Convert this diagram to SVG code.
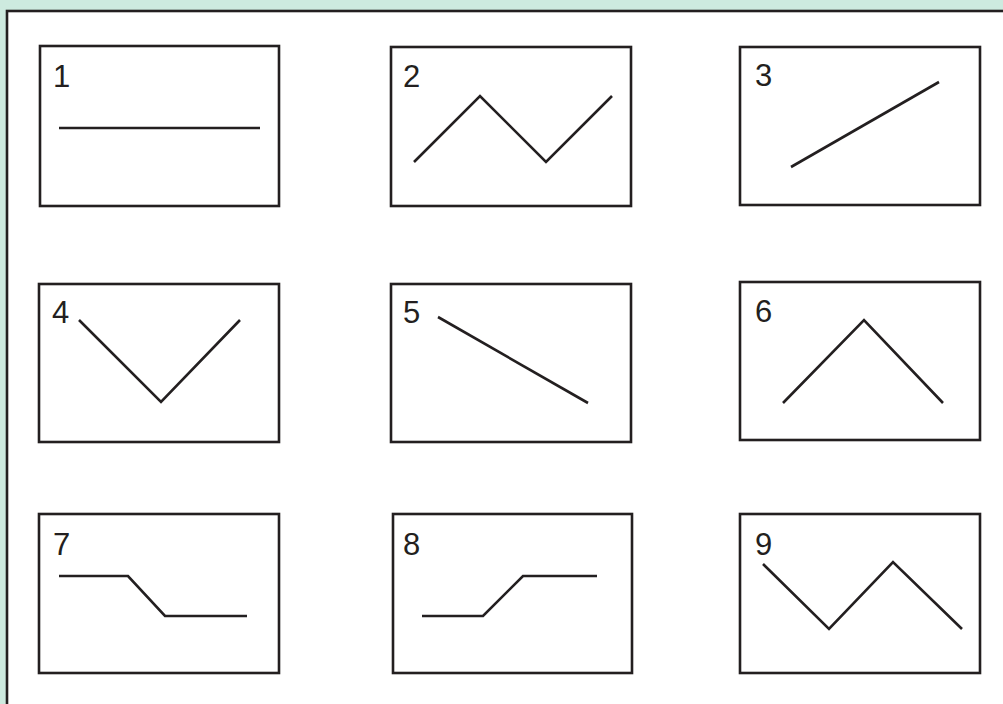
<svg xmlns="http://www.w3.org/2000/svg" width="1003" height="704" viewBox="0 0 1003 704">
<style>
.box{fill:#fff;stroke:#231f20;stroke-width:2.6}
.ln{fill:none;stroke:#231f20;stroke-width:2.6;stroke-linejoin:miter;stroke-linecap:butt}
.lb{font-family:"Liberation Sans",Arial,sans-serif;font-size:31px;fill:#231f20}
</style>
<rect x="0" y="0" width="1003" height="704" fill="#cdeadf"/>
<rect x="7" y="11" width="1010" height="710" fill="#fff" stroke="#231f20" stroke-width="2.6"/>
<g id="node1"><rect class="box" x="40" y="46" width="239" height="160"/><text class="lb" x="53" y="87">1</text><polyline class="ln" points="59,128 260,128"/></g>
<g id="node2"><rect class="box" x="391" y="47" width="240" height="159"/><text class="lb" x="403" y="87">2</text><polyline class="ln" points="414,162 480,96 546,162 612,96"/></g>
<g id="node3"><rect class="box" x="740" y="47" width="240" height="158"/><text class="lb" x="755" y="86">3</text><polyline class="ln" points="791,167 939,82"/></g>
<g id="node4"><rect class="box" x="39" y="284" width="240" height="158"/><text class="lb" x="52" y="323">4</text><polyline class="ln" points="79,320 161,402 240,320"/></g>
<g id="node5"><rect class="box" x="391" y="284" width="240" height="158"/><text class="lb" x="403" y="323">5</text><polyline class="ln" points="438,317 588,403"/></g>
<g id="node6"><rect class="box" x="740" y="282" width="240" height="158"/><text class="lb" x="755" y="322">6</text><polyline class="ln" points="783,403 864,320 943,403"/></g>
<g id="node7"><rect class="box" x="39" y="514" width="240" height="159"/><text class="lb" x="53" y="555">7</text><polyline class="ln" points="59,576 128,576 165,616 247,616"/></g>
<g id="node8"><rect class="box" x="393" y="514" width="239" height="159"/><text class="lb" x="403" y="555">8</text><polyline class="ln" points="422,616 483,616 523,576 597,576"/></g>
<g id="node9"><rect class="box" x="740" y="514" width="240" height="159"/><text class="lb" x="755" y="555">9</text><polyline class="ln" points="763,564 829,629 893,562 962,629"/></g>
<g id="connectors"></g>
</svg>
